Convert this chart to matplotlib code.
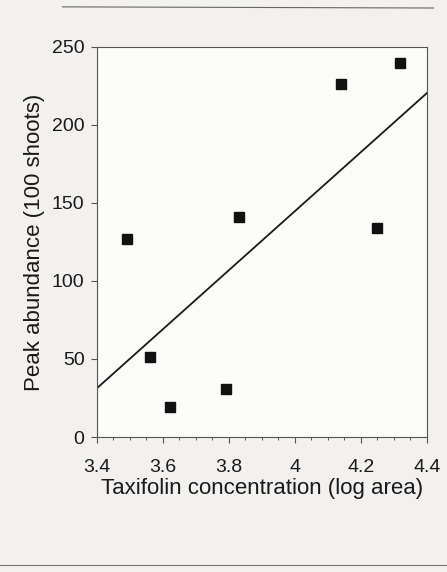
import numpy as np
import matplotlib.pyplot as plt
from matplotlib.ticker import MultipleLocator
from matplotlib.lines import Line2D

plt.rcParams['font.family'] = ['Liberation Sans', 'DejaVu Sans']

# Taxifolin concentration (log area) vs peak abundance
taxifolin = [3.49, 3.56, 3.62, 3.79, 3.83, 4.14, 4.25, 4.32]
abundance = [127, 51, 19, 31, 141, 226, 134, 240]

x_ticks = [3.4, 3.6, 3.8, 4.0, 4.2, 4.4]
x_tick_labels = ['3.4', '3.6', '3.8', '4', '4.2', '4.4']
y_ticks = [0, 50, 100, 150, 200, 250]

# linear regression line
slope, intercept = np.polyfit(taxifolin, abundance, 1)
x_fit = np.array([3.4, 4.4])
y_fit = slope * x_fit + intercept

fig = plt.figure(figsize=(4.47, 5.72), dpi=100, facecolor='#f2f1ef')
ax = fig.add_axes([0.217, 0.236, 0.738, 0.682])
ax.set_facecolor('#fbfbf9')

ax.plot(x_fit, y_fit, color='#1a1a1a', linewidth=1.3)
ax.plot(taxifolin, abundance, linestyle='none', marker='s', markersize=7.5,
        color='#111111')

ax.set_xlim(3.4, 4.4)
ax.set_ylim(0, 250)
ax.set_xticks(x_ticks)
ax.set_xticklabels(x_tick_labels)
ax.set_yticks(y_ticks)
ax.xaxis.set_minor_locator(MultipleLocator(0.05))

for s in ax.spines.values():
    s.set_color('#555555')
    s.set_linewidth(0.8)

ax.tick_params(axis='both', which='major', direction='out', length=4,
               width=0.8, color='#555555', labelsize=14, labelcolor='#1a1a1a')
ax.tick_params(axis='x', which='minor', direction='out', length=2.5,
               width=0.7, color='#555555')
ax.tick_params(axis='x', pad=12)
ax.tick_params(axis='y', pad=5)

ax.set_xlabel('Taxifolin concentration (log area)', fontsize=16,
              color='#1a1a1a', labelpad=1)
ax.set_ylabel('Peak abundance (100 shoots)', fontsize=16,
              color='#1a1a1a', labelpad=5)

# faint scan page edges
fig.add_artist(Line2D([0.14, 0.97], [0.988, 0.986], color='#666666',
                      linewidth=0.8, transform=fig.transFigure))
fig.add_artist(Line2D([0.0, 1.0], [0.012, 0.012], color='#777777',
                      linewidth=0.8, transform=fig.transFigure))

fig.savefig('out.png', dpi=100, facecolor=fig.get_facecolor())
